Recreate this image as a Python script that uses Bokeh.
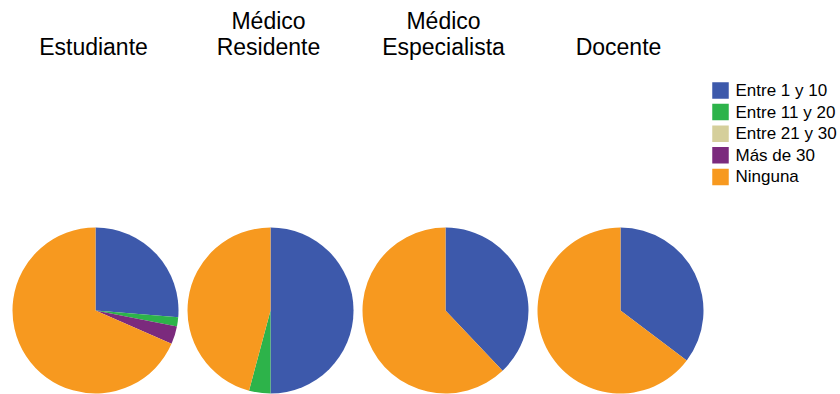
import numpy as np
from bokeh.plotting import figure
from bokeh.models import Range1d, ColumnDataSource
from bokeh.core.properties import value
from bokeh.embed import file_html
from bokeh.resources import INLINE

# ---- data ----
groups = ["Estudiante", "Médico\nResidente", "Médico\nEspecialista", "Docente"]
categories = ["Entre 1 y 10", "Entre 11 y 20", "Entre 21 y 30", "Más de 30", "Ninguna"]
entre_1_10 = [15, 12, 11, 6]
entre_11_20 = [1, 1, 0, 0]
entre_21_30 = [0, 0, 0, 0]
mas_de_30 = [2, 0, 0, 0]
ninguna = [39, 11, 18, 11]
colors = ["#3D59AB", "#2DB34A", "#D5CF9B", "#7B2A7D", "#F7991F"]

# ---- layout (data units == pixels, y measured up from bottom) ----
W, H = 840, 394
R = 83
CX0, DX, CY = 95, 175, 84
TITLE_BASE, LINE_PITCH = 348, 25.5
LEG_X, LEG_TOP, LEG_SQ, LEG_PITCH, LEG_TXT = 720, 304, 16.5, 21.6, 735

p = figure(width=W, height=H, x_range=Range1d(0, W), y_range=Range1d(0, H),
           output_backend="svg", toolbar_location=None, min_border=0)
p.axis.visible = False
p.grid.visible = False
p.outline_line_color = None

vals = np.array([entre_1_10, entre_11_20, entre_21_30, mas_de_30, ninguna], dtype=float)
fracs = vals / vals.sum(axis=0)
cum = np.vstack([np.zeros(len(groups)), np.cumsum(fracs, axis=0)])

for k, cat in enumerate(categories):
    xs, ys, sa, ea = [], [], [], []
    for i in range(len(groups)):
        if fracs[k, i] > 0:
            xs.append(CX0 + DX * i)
            ys.append(CY)
            sa.append(np.pi / 2 - 2 * np.pi * cum[k, i])
            ea.append(np.pi / 2 - 2 * np.pi * cum[k + 1, i])
    if xs:
        src = ColumnDataSource(dict(x=xs, y=ys, start=sa, end=ea))
        p.wedge(x="x", y="y", radius=R, start_angle="start", end_angle="end",
                direction="clock", fill_color=colors[k], line_color=None, source=src)

# titles
tx, ty, tt = [], [], []
for i, g in enumerate(groups):
    lines = g.split("\n")
    for j, line in enumerate(reversed(lines)):
        tx.append(CX0 - 2 + DX * i)
        ty.append(TITLE_BASE + LINE_PITCH * j)
        tt.append(line)
p.text(x=tx, y=ty, text=tt, text_align="center", text_baseline="alphabetic",
       text_font=value("Liberation Sans"), text_font_size="23px", text_color="black")

# legend
ly = [LEG_TOP - LEG_PITCH * k for k in range(len(categories))]
p.rect(x=[LEG_X] * len(categories), y=ly, width=LEG_SQ, height=LEG_SQ,
       fill_color=colors, line_color=None)
p.text(x=[LEG_TXT] * len(categories), y=ly, text=categories, text_align="left",
       text_baseline="middle", text_font=value("Liberation Sans"),
       text_font_size="17px", text_color="black")

open("out.html", "w").write(file_html(p, INLINE))
